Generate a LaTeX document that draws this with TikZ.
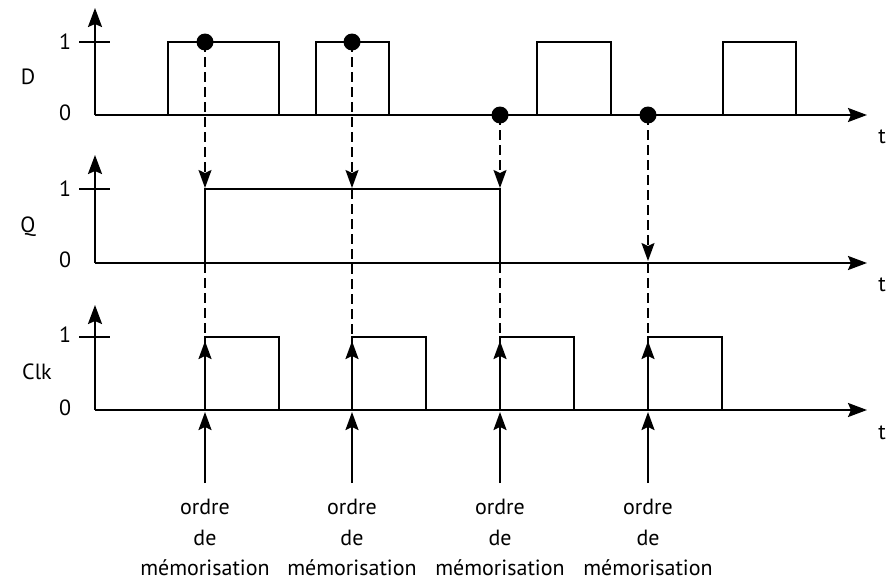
\documentclass[tikz,border=0pt]{standalone}
\usepackage{fontspec}
\setmainfont{PT Sans}
\usetikzlibrary{arrows.meta}
\begin{document}
\begin{tikzpicture}[x=1pt,y=-1pt,
  sig/.style={line width=2.1pt,line join=miter},
  axis/.style={line width=2.1pt,-{Stealth[length=19pt,width=14pt,inset=3pt]}},
  dasharrow/.style={line width=1.6pt,dash pattern=on 10pt off 5pt,-{Stealth[length=18pt,width=13pt,inset=3pt]}},
  dashline/.style={line width=1.6pt,dash pattern=on 10pt off 5pt},
  evarrow/.style={line width=2.1pt,-{Stealth[length=18pt,width=13pt,inset=3pt]}},
  lbl/.style={font=\fontsize{22}{26}\selectfont,inner sep=0pt},
  dot/.style={circle,fill=black,minimum size=17pt,inner sep=0pt}]
\useasboundingbox (0,0) rectangle (891,581);
% axes origins
\coordinate (oD) at (95,115); \coordinate (oQ) at (95,263); \coordinate (oC) at (95,410);
\coordinate (tD) at (95,8); \coordinate (tQ) at (95,155); \coordinate (tC) at (95,305);
\coordinate (eD) at (867,115); \coordinate (eQ) at (867,263); \coordinate (eC) at (867,410);
\draw[axis] (oD) -- (tD);
\draw[axis] (oD) -- (eD);
\draw[axis] (oQ) -- (tQ);
\draw[axis] (oQ) -- (eQ);
\draw[axis] (oC) -- (tC);
\draw[axis] (oC) -- (eC);
% ticks
\draw[sig] (79,42) -- (110,42);
\draw[sig] (79,189) -- (110,189);
\draw[sig] (79,337) -- (110,337);
% axis labels
\node[lbl] (lD) at (28,77) {D};
\node[lbl] (lQ) at (28,227) {Q};
\node[lbl] (lC) at (37,372) {Clk};
\node[lbl] (d1) at (65,42) {1};
\node[lbl] (d0) at (65,113) {0};
\node[lbl] (q1) at (65,189) {1};
\node[lbl] (q0) at (65,260) {0};
\node[lbl] (c1) at (65,335) {1};
\node[lbl] (c0) at (65,408) {0};
\node[lbl] (t1) at (882,137) {t};
\node[lbl] (t2) at (882,285) {t};
\node[lbl] (t3) at (882,433) {t};
% D signal
\draw[sig] (95,115) -- (168,115) -- (168,42) -- (279,42) -- (279,115) -- (316,115) -- (316,42) -- (389,42) -- (389,115)
  -- (537,115) -- (537,42) -- (611,42) -- (611,115) -- (723,115) -- (723,42) -- (796,42) -- (796,115);
% Q signal
\draw[sig] (205,263) -- (205,189) -- (500,189) -- (500,263);
% Clk signal
\foreach \x in {205,352,500,648}{
  \draw[sig] (\x,410) -- (\x,337) -- (\x+74,337) -- (\x+74,410);
}
% dots
\node[dot] (p1) at (205,42) {};
\node[dot] (p2) at (352,42) {};
\node[dot] (p3) at (500,115) {};
\node[dot] (p4) at (648,115) {};
\coordinate (a1) at (205,188); \coordinate (a2) at (352,188);
\coordinate (a3) at (500,188); \coordinate (a4) at (648,261);
\draw[dasharrow] (p1.center) -- (a1);
\draw[dasharrow] (p2.center) -- (a2);
\draw[dasharrow] (p3.center) -- (a3);
\draw[dasharrow] (p4.center) -- (a4);
\draw[dashline] (205,263) -- (205,337);
\draw[dashline] (352,189) -- (352,337);
\draw[dashline] (500,263) -- (500,337);
\draw[dashline] (648,263) -- (648,337);
% event arrows and labels
\foreach \x/\n in {205/1,352/2,500/3,648/4}{
  \coordinate (b\n) at (\x,410);
  \coordinate (h\n) at (\x,341);
  \draw[evarrow] (b\n) -- (h\n);
  \node[lbl] (o\n) at (\x,507) {ordre};
  \node[lbl] (de\n) at (\x,538) {de};
  \node[lbl] (m\n) at (\x,568) {mémorisation};
  \coordinate (s\n) at (\x,483);
  \coordinate (u\n) at (\x,412);
  \draw[evarrow] (s\n) -- (u\n);
}
\end{tikzpicture}
\end{document}
